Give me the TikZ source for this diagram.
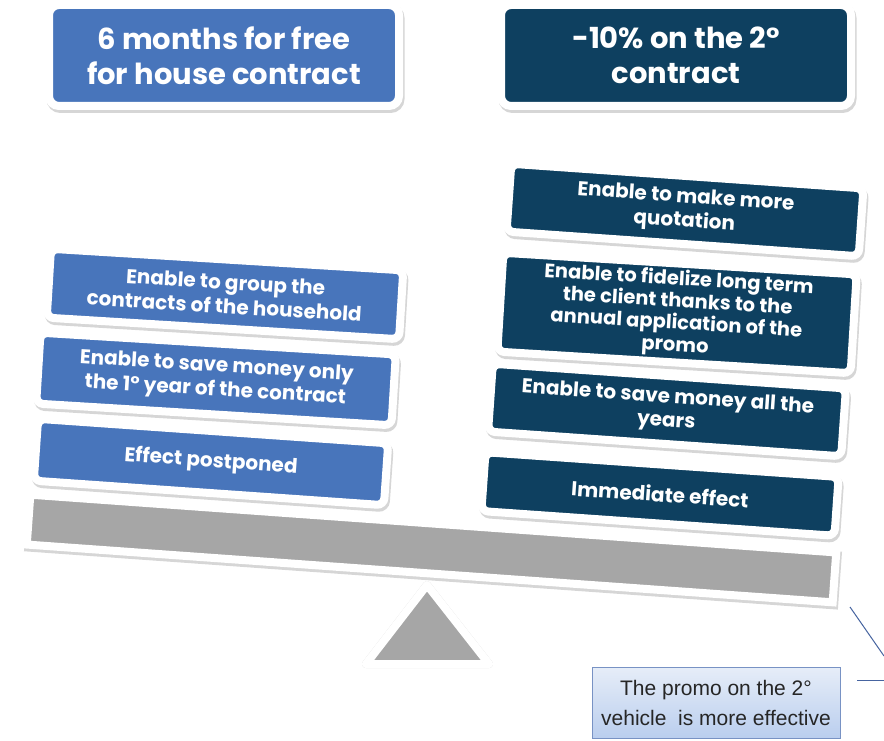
\documentclass[tikz,border=0pt]{standalone}
\usepackage{fontspec}
\setmainfont{Liberation Sans}
\newfontfamily\gothic{Poppins}
\usetikzlibrary{shadows}
\definecolor{lblue}{RGB}{72,117,187}
\definecolor{navy}{RGB}{14,64,96}
\definecolor{beamgray}{RGB}{166,166,166}
\definecolor{shadowgray}{RGB}{140,140,140}
\definecolor{calltop}{RGB}{230,237,248}
\definecolor{callbot}{RGB}{186,206,238}
\definecolor{callborder}{RGB}{120,146,196}
\definecolor{lineblue}{RGB}{70,100,160}
\begin{document}
\begin{tikzpicture}[x=1pt,y=-1pt,
  card/.style={rectangle, rounded corners=7pt, draw=white, line width=8pt, text=white, align=center, inner sep=0pt,
     drop shadow={shadow xshift=1.5pt, shadow yshift=-3pt, opacity=0.35, fill=shadowgray, draw=shadowgray, line width=8pt}},
  head/.style={card, rounded corners=10pt, font=\gothic\bfseries\fontsize{29}{35}\selectfont},
  item/.style={card, font=\gothic\bfseries\fontsize{20}{24}\selectfont},
  tightitem/.style={item, font=\gothic\bfseries\fontsize{19.5}{22}\selectfont},
  pointer/.style={draw=lineblue, line width=1pt}
]
\useasboundingbox (0,0) rectangle (884,741);
\fill[white] (0,0) rectangle (884,741);

% headers
\node[head, fill=lblue, minimum width=350pt, minimum height=101pt] (hl) at (224,55.5) {6 months for free\\for house contract};
\node[head, fill=navy, minimum width=350pt, minimum height=101pt] (hr) at (676,55.5) {-10\% on the 2°\\contract};

% beam
\node[card, rounded corners=0pt, fill=beamgray, rotate=-4.1, minimum width=808pt, minimum height=50pt] (beam) at (431.5,548.5) {};

% left stack
\node[item, fill=lblue, rotate=-3.5, minimum width=353pt, minimum height=69pt] (l1) at (225,294) {Enable to group the\\contracts of the household};
\node[item, fill=lblue, rotate=-3.5, minimum width=356pt, minimum height=71pt] (l2) at (216,379) {Enable to save money only\\the 1° year of the contract};
\node[item, fill=lblue, rotate=-4, minimum width=351pt, minimum height=62pt] (l3) at (211,462) {Effect postponed};

% right stack
\node[item, fill=navy, rotate=-4, minimum width=353pt, minimum height=68pt] (r1) at (685,210) {Enable to make more\\quotation};
\node[tightitem, fill=navy, rotate=-3.5, minimum width=354pt, minimum height=99pt] (r2) at (677,313) {Enable to fidelize long term\\the client thanks to the\\annual application of the\\promo};
\node[item, fill=navy, rotate=-4, minimum width=354pt, minimum height=68pt] (r3) at (667,410) {Enable to save money all the\\years};
\node[item, fill=navy, rotate=-4, minimum width=354pt, minimum height=59pt] (r4) at (660,494) {Immediate effect};

% fulcrum
\coordinate (apex) at (427,585);
\coordinate (bl) at (366,664);
\coordinate (br) at (489,664);
\draw[shadowgray, opacity=0.35, line width=8pt, line join=round, fill=shadowgray, xshift=1.5pt, yshift=-3pt] (apex) -- (bl) -- (br) -- cycle;
\draw[white, line width=8pt, line join=round, fill=beamgray] (apex) -- (bl) -- (br) -- cycle;

% callout
\node[draw=callborder, line width=0.8pt, top color=calltop, bottom color=callbot, minimum width=248pt, minimum height=71pt, inner sep=0pt, align=center, text=black!85, font=\fontsize{21}{30}\selectfont] (call) at (716,702.5) {The promo on the 2°\\vehicle\ \ is more effective};
\coordinate (h1) at (857,680);
\coordinate (h2) at (884,680);
\coordinate (d1) at (850,607);
\coordinate (d2) at (884,656);
\draw[pointer] (h1) -- (h2);
\draw[pointer] (d1) -- (d2);
\end{tikzpicture}
\end{document}
